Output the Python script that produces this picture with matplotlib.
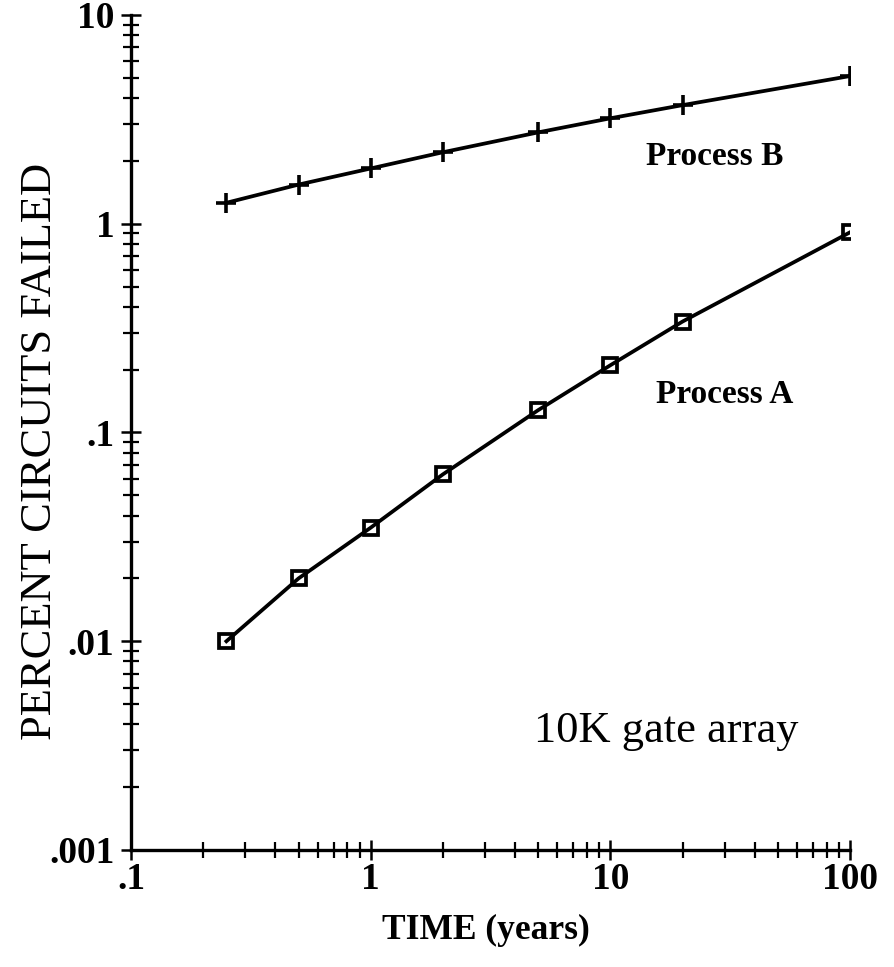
import matplotlib
matplotlib.use("Agg")
import matplotlib.pyplot as plt
from matplotlib.ticker import FixedLocator, FixedFormatter, LogLocator, NullFormatter

plt.rcParams['font.family'] = ['Liberation Serif', 'DejaVu Serif']

years = [0.25, 0.5, 1, 2, 5, 10, 20, 100]
process_a = [0.01, 0.020, 0.035, 0.063, 0.128, 0.21, 0.34, 0.91]
process_b = [1.26, 1.54, 1.84, 2.2, 2.74, 3.2, 3.7, 5.1]

x_ticks = [0.1, 1, 10, 100]
x_tick_labels = ['.1', '1', '10', '100']
y_ticks = [0.001, 0.01, 0.1, 1, 10]
y_tick_labels = ['.001', '.01', '.1', '1', '10']

fig = plt.figure(figsize=(8.95, 9.67), dpi=100)
ax = fig.add_axes([0.1464, 0.121, 0.8034, 0.8635])

ax.plot(years, process_a, color='black', lw=2.7, marker='s', markersize=10,
        markerfacecolor='none', markeredgewidth=2.7)
ax.plot(years, process_b, color='black', lw=2.7, marker='+', markersize=14,
        markeredgewidth=2.6)

ax.set_xscale('log')
ax.set_yscale('log')
ax.set_xlim(0.1, 100)
ax.set_ylim(0.001, 10)

ax.xaxis.set_major_locator(FixedLocator(x_ticks))
ax.xaxis.set_major_formatter(FixedFormatter(x_tick_labels))
ax.yaxis.set_major_locator(FixedLocator(y_ticks))
ax.yaxis.set_major_formatter(FixedFormatter(y_tick_labels))
ax.xaxis.set_minor_locator(LogLocator(base=10, subs=range(2, 10), numticks=20))
ax.yaxis.set_minor_locator(LogLocator(base=10, subs=range(2, 10), numticks=20))
ax.xaxis.set_minor_formatter(NullFormatter())
ax.yaxis.set_minor_formatter(NullFormatter())

for side in ['top', 'right']:
    ax.spines[side].set_visible(False)
for side in ['left', 'bottom']:
    ax.spines[side].set_linewidth(2.4)

ax.tick_params(which='major', direction='inout', length=14, width=1.8,
               labelsize=27)
ax.tick_params(which='minor', direction='inout', length=11, width=1.6)
ax.tick_params(axis='x', which='major', pad=2)
ax.tick_params(axis='y', which='major', pad=5)
for lab in ax.get_xticklabels() + ax.get_yticklabels():
    lab.set_fontweight('bold')

ax.set_xlabel('TIME (years)', fontsize=25.5, fontweight='bold')
ax.xaxis.set_label_coords(0.494, -0.076)
ax.xaxis.label.set_va('top')
ax.set_ylabel('PERCENT CIRCUITS FAILED', fontsize=32, va='center')
ax.yaxis.set_label_coords(-0.127, 0.477)

# curve labels
ax.text(0.812, 0.831, 'Process B', fontsize=24, fontweight='bold',
        ha='center', va='center', transform=ax.transAxes)
ax.text(0.825, 0.546, 'Process A', fontsize=24, fontweight='bold',
        ha='center', va='center', transform=ax.transAxes)
ax.text(0.744, 0.142, '10K gate array', fontsize=32,
        ha='center', va='center', transform=ax.transAxes)

fig.savefig('out.png', dpi=100)
